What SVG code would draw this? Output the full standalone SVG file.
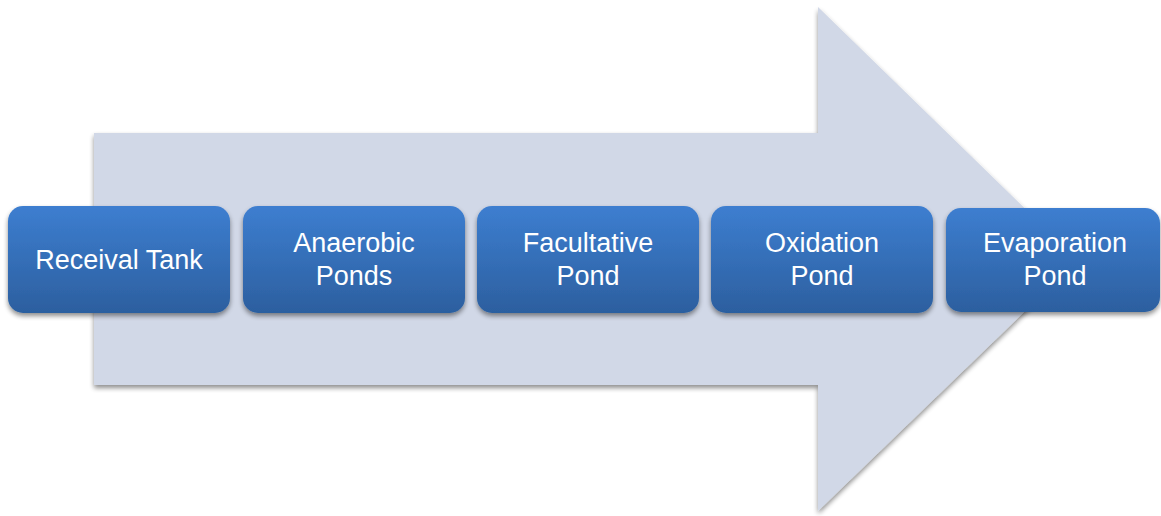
<svg xmlns="http://www.w3.org/2000/svg" width="1161" height="516" viewBox="0 0 1161 516">
  <defs>
    <linearGradient id="boxGrad" x1="0" y1="0" x2="0" y2="1">
      <stop offset="0" stop-color="#3d7ed0"/>
      <stop offset="1" stop-color="#2c5f9f"/>
    </linearGradient>
    <filter id="shadow" x="-10%" y="-10%" width="120%" height="130%">
      <feGaussianBlur in="SourceAlpha" stdDeviation="2.5"/>
      <feOffset dx="0" dy="3" result="b"/>
      <feComponentTransfer><feFuncA type="linear" slope="0.45"/></feComponentTransfer>
      <feMerge><feMergeNode/><feMergeNode in="SourceGraphic"/></feMerge>
    </filter>
    <style>
      .box { fill: url(#boxGrad); filter: url(#shadow); }
      .lbl { font-family: "Liberation Sans", Arial, sans-serif; font-size: 27px; fill: #ffffff; text-anchor: middle; }
    </style>
  </defs>
  <rect width="1161" height="516" fill="#ffffff"/>
  <g id="arrow">
    <path d="M94,133 L818,133 L818,7 L1078,260 L818,511 L818,385 L94,385 Z" fill="#d1d8e7" filter="url(#shadow)"/>
  </g>
  <g id="connectors"/>
  <g id="receival">
    <rect class="box" x="8" y="206" width="222" height="107" rx="15"/>
    <text class="lbl" x="119" y="269">Receival Tank</text>
  </g>
  <g id="anaerobic">
    <rect class="box" x="243" y="206" width="222" height="107" rx="15"/>
    <text class="lbl" x="354" y="252">Anaerobic</text>
    <text class="lbl" x="354" y="285">Ponds</text>
  </g>
  <g id="facultative">
    <rect class="box" x="477" y="206" width="222" height="107" rx="15"/>
    <text class="lbl" x="588" y="252">Facultative</text>
    <text class="lbl" x="588" y="285">Pond</text>
  </g>
  <g id="oxidation">
    <rect class="box" x="711" y="206" width="222" height="107" rx="15"/>
    <text class="lbl" x="822" y="252">Oxidation</text>
    <text class="lbl" x="822" y="285">Pond</text>
  </g>
  <g id="evaporation">
    <rect class="box" x="946" y="208" width="214" height="104" rx="15"/>
    <text class="lbl" x="1055" y="252">Evaporation</text>
    <text class="lbl" x="1055" y="285">Pond</text>
  </g>
</svg>
